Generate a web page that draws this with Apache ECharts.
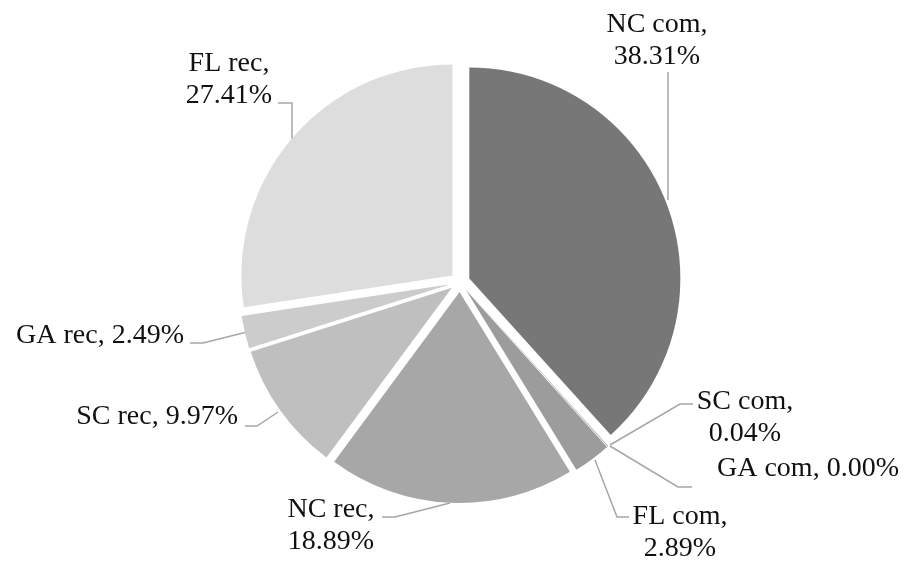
<!DOCTYPE html>
<html>
<head>
<meta charset="utf-8">
<script src="https://cdn.jsdelivr.net/npm/echarts@6/dist/echarts.min.js"></script>
<style>
  html, body { margin: 0; padding: 0; background: #fff; }
  #chart { width: 913px; height: 565px; }
</style>
</head>
<body>
<div id="chart"></div>
<script>
// slice names and shares (%), clockwise from 12 o'clock
var categories = ["NC com", "SC com", "GA com", "FL com", "NC rec", "SC rec", "GA rec", "FL rec"];
var shares = [38.31, 0.04, 0.00, 2.89, 18.89, 9.97, 2.49, 27.41];

// styling per slice
var colors = ["#777777", "#8c8c8c", "#8c8c8c", "#9c9c9c", "#a7a7a7", "#bfbfbf", "#cccccc", "#dddddd"];
// label placement: [x, y, align, one line?] and leader points
var labelPos = [
  [657, 9, "center", false],
  [745, 386, "center", false],
  [717, 453, "left", true],
  [680, 501, "center", false],
  [331, 494, "center", false],
  [238, 401, "right", true],
  [184, 320, "right", true],
  [229, 48, "center", false]
];
var leaders = [
  [[668, 200], [668, 135], [668, 72]],
  [[610, 445], [680, 404], [693, 404]],
  [[610, 446], [678, 487], [692, 487]],
  [[595, 460], [617, 517], [629, 517]],
  [[450, 503], [395, 517], [382, 517]],
  [[278, 412], [257, 426], [245, 426]],
  [[247, 332], [203, 343], [190, 343]],
  [[292, 139], [292, 103], [278, 103]]
];

var chart = echarts.init(document.getElementById("chart"));

// exploded slices (every slice selected -> pushed out by selectedOffset)
var sliceData = categories.map(function (name, i) {
  return {
    name: name,
    value: shares[i],
    selected: true,
    itemStyle: { color: colors[i] },
    select: { itemStyle: { color: colors[i] } }
  };
});
// same data again, only to carry the labels
var labelData = categories.map(function (name, i) {
  return { name: name, value: shares[i] };
});

chart.setOption({
  animation: false,
  series: [
    {
      type: "pie",
      center: [460, 282],
      radius: [0, 211],
      startAngle: 90,
      clockwise: true,
      selectedMode: "multiple",
      selectedOffset: 10,
      emphasis: { disabled: true },
      itemStyle: { borderWidth: 0 },
      label: { show: false },
      labelLine: { show: false },
      data: sliceData
    },
    {
      type: "pie",
      center: [460, 282],
      radius: [0, 211],
      startAngle: 90,
      clockwise: true,
      silent: true,
      avoidLabelOverlap: false,
      emphasis: { disabled: true },
      itemStyle: { color: "rgba(0,0,0,0)", borderWidth: 0 },
      label: {
        show: true,
        position: "outside",
        fontFamily: "Liberation Serif",
        fontSize: 28,
        lineHeight: 32,
        color: "#111111",
        formatter: function (p) {
          var sep = labelPos[p.dataIndex][3] ? ", " : ",\n";
          return p.name + sep + p.value.toFixed(2) + "%";
        }
      },
      labelLine: {
        show: true,
        lineStyle: { color: "#a6a6a6", width: 1.5 }
      },
      labelLayout: function (params) {
        var lp = labelPos[params.dataIndex];
        return {
          x: lp[0],
          y: lp[1],
          align: lp[2],
          verticalAlign: "top",
          labelLinePoints: leaders[params.dataIndex]
        };
      },
      data: labelData
    }
  ]
});
</script>
</body>
</html>
